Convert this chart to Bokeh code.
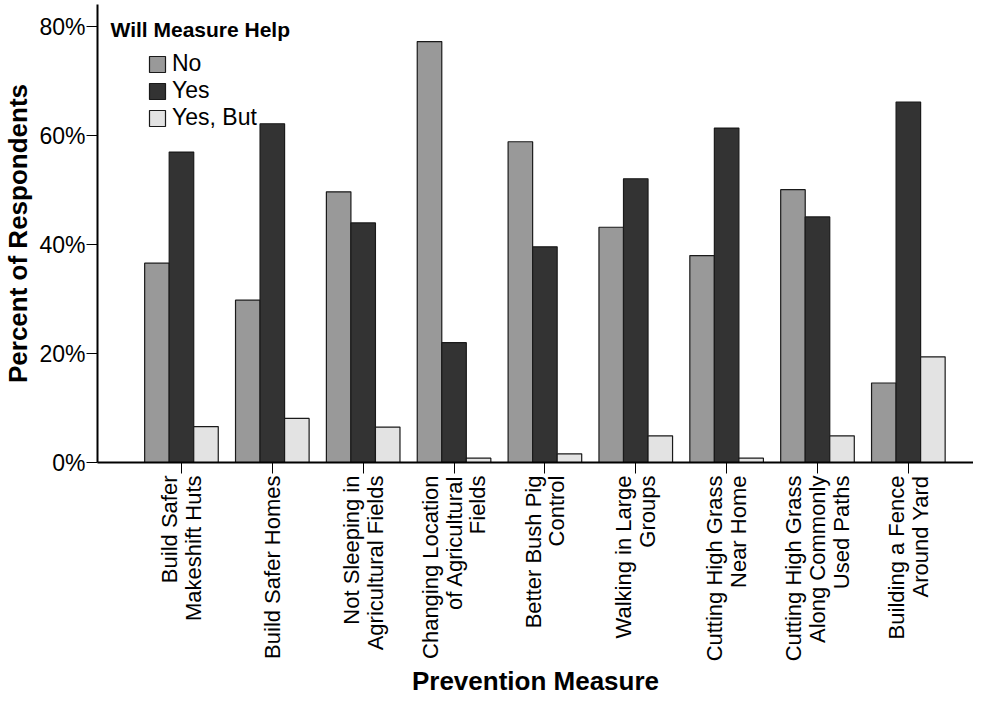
import math
from bokeh.plotting import figure
from bokeh.models import (ColumnDataSource, Range1d, FixedTicker, PrintfTickFormatter,
                          Legend, LegendItem, Label)
from bokeh.transform import dodge
from bokeh.embed import file_html
from bokeh.resources import INLINE

categories = [
    "Build Safer\nMakeshift Huts",
    "Build Safer Homes",
    "Not Sleeping in\nAgricultural Fields",
    "Changing Location\nof Agricultural\nFields",
    "Better Bush Pig\nControl",
    "Walking in Large\nGroups",
    "Cutting High Grass\nNear Home",
    "Cutting High Grass\nAlong Commonly\nUsed Paths",
    "Building a Fence\nAround Yard",
]
no_vals = [36.6, 29.8, 49.7, 77.3, 58.9, 43.2, 38.0, 50.1, 14.6]
yes_vals = [57.0, 62.2, 44.0, 22.0, 39.6, 52.1, 61.4, 45.1, 66.2]
yesbut_vals = [6.6, 8.1, 6.5, 0.8, 1.6, 4.9, 0.8, 4.9, 19.4]
series_names = ["No", "Yes", "Yes, But"]
series_cols = ["no", "yes", "yesbut"]
colors = ["#999999", "#333333", "#e3e3e3"]
y_ticks = [0, 20, 40, 60, 80]

FONT = "Liberation Sans"

idx = list(range(len(categories)))
source = ColumnDataSource(dict(x=idx, no=no_vals, yes=yes_vals, yesbut=yesbut_vals))

p = figure(width=973, height=699,
           x_range=Range1d(-0.924, 8.717), y_range=Range1d(0, 84.1),
           output_backend="svg", toolbar_location=None,
           min_border_left=89, min_border_top=4, min_border_right=0, min_border_bottom=10)
p.outline_line_color = None
p.grid.visible = False
p.background_fill_color = "white"

bw = 0.27
offsets = [-bw, 0.0, bw]
items = []
for name, col, c, off in zip(series_names, series_cols, colors, offsets):
    r = p.vbar(x=dodge("x", off, range=p.x_range), top=col, width=bw, bottom=0,
               source=source, fill_color=c, line_color="#1a1a1a", line_width=1.2)
    items.append(LegendItem(label=name, renderers=[r]))

legend = Legend(items=items, location=(50, 331), padding=0, margin=0, spacing=0,
                glyph_width=20, glyph_height=20, label_height=27, label_standoff=5,
                label_text_font=FONT, label_text_font_size="23px",
                label_text_color="black",
                background_fill_alpha=0, border_line_alpha=0)
p.add_layout(legend)

p.add_layout(Label(x=13, y=433, x_units="screen", y_units="screen",
                   text="Will Measure Help", text_font=FONT, text_font_size="21px",
                   text_font_style="bold", text_baseline="alphabetic", text_color="black"))

# x axis
xa = p.xaxis[0]
xa.ticker = FixedTicker(ticks=idx)
xa.major_label_overrides = {i: c for i, c in zip(idx, categories)}
xa.major_label_orientation = math.pi / 2
xa.major_label_text_font = FONT
xa.major_label_text_font_size = "22px"
xa.major_label_text_color = "black"
xa.major_label_text_line_height = 0.95
xa.major_label_standoff = 2
xa.major_tick_out = 11
xa.major_tick_in = 0
xa.minor_tick_line_color = None
xa.axis_line_width = 2
xa.axis_line_color = "black"
xa.major_tick_line_color = "black"
xa.axis_label = "Prevention Measure"
xa.axis_label_text_font = FONT
xa.axis_label_text_font_size = "26px"
xa.axis_label_text_font_style = "bold"
xa.axis_label_text_color = "black"
xa.axis_label_standoff = 2

# y axis
ya = p.yaxis[0]
ya.ticker = FixedTicker(ticks=y_ticks)
ya.formatter = PrintfTickFormatter(format="%d%%")
ya.major_label_text_font = FONT
ya.major_label_text_font_size = "23px"
ya.major_label_text_color = "black"
ya.major_label_standoff = 1
ya.major_tick_out = 11
ya.major_tick_in = 0
ya.minor_tick_line_color = None
ya.axis_line_width = 2
ya.axis_line_color = "black"
ya.major_tick_line_color = "black"
ya.axis_label = "Percent of Respondents"
ya.axis_label_text_font = FONT
ya.axis_label_text_font_size = "26px"
ya.axis_label_text_font_style = "bold"
ya.axis_label_text_color = "black"
ya.axis_label_standoff = 3

open("out.html", "w").write(file_html(p, INLINE))
